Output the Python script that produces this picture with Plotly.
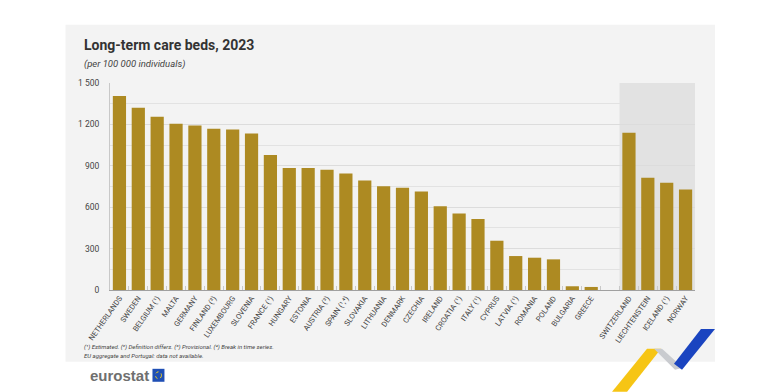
import plotly.graph_objects as go

# ---- data ----
eu_countries = ["NETHERLANDS", "SWEDEN", "BELGIUM (¹)", "MALTA", "GERMANY", "FINLAND (²)",
                "LUXEMBOURG", "SLOVENIA", "FRANCE (¹)", "HUNGARY", "ESTONIA", "AUSTRIA (³)",
                "SPAIN (¹,⁴)", "SLOVAKIA", "LITHUANIA", "DENMARK", "CZECHIA", "IRELAND",
                "CROATIA (¹)", "ITALY (¹)", "CYPRUS", "LATVIA (¹)", "ROMANIA", "POLAND",
                "BULGARIA", "GREECE"]
eu_values = [1405, 1320, 1255, 1204, 1192, 1168, 1163, 1134, 978, 884, 884, 871,
             845, 794, 751, 741, 714, 606, 555, 514, 357, 246, 234, 222, 27, 22]
efta_countries = ["SWITZERLAND", "LIECHTENSTEIN", "ICELAND (¹)", "NORWAY"]
efta_values = [1139, 813, 777, 729]
y_tickvals = [0, 300, 600, 900, 1200, 1500]
y_ticktext = ["0", "300", "600", "900", "1 200", "1 500"]

title = "Long-term care beds, 2023"
subtitle = "(per 100 000 individuals)"
note1 = "(¹) Estimated. (²) Definition differs. (³) Provisional. (⁴) Break in time series."
note2 = "EU aggregate and Portugal: data not available."

# ---- layout geometry (page pixels; figure sits at page offset 8,8) ----
OFF = 8
W, H = 760, 384
L = 109.5 - OFF
T = 82.5 - OFF
R = W - (695 - OFF)
B = H - (290 - OFF)
PW, PH = W - L - R, H - T - B

def px(x):
    return (x - OFF - L) / PW

def py(y):
    return (H - B - (y - OFF)) / PH

gap = " "
categories = eu_countries + [gap] + efta_countries
BAR = "#ad8a22"
FONT = "Roboto, Liberation Sans, Arial, sans-serif"

fig = go.Figure()
fig.add_trace(go.Bar(x=eu_countries + efta_countries, y=eu_values + efta_values,
                     marker=dict(color=BAR, line=dict(width=0)), showlegend=False))

shapes = [
    dict(type="rect", xref="paper", yref="paper", x0=px(65), x1=px(715), y0=py(362), y1=py(24),
         fillcolor="#f3f3f3", line=dict(width=0), layer="below"),
    dict(type="rect", xref="x", yref="y", x0=26.5, x1=30.5, y0=0, y1=1500,
         fillcolor="rgba(0,0,0,0.065)", line=dict(width=0), layer="below"),
]

def poly(points, color):
    d = "M " + " L ".join(f"{px(a):.4f},{py(b):.4f}" for a, b in points) + " Z"
    return dict(type="path", xref="paper", yref="paper", path=d, fillcolor=color,
                line=dict(width=0), layer="above")

shapes += [
    poly([(612, 392), (647, 349), (661, 349), (627, 392)], "#f6c515"),
    poly([(654, 349), (662, 349), (683, 368), (675, 370)], "#c9cbcf"),
    poly([(674, 364), (682, 370), (715, 329), (701, 329)], "#1a44c0"),
    dict(type="rect", xref="paper", yref="paper", x0=px(152), x1=px(164), y0=py(382), y1=py(369),
         fillcolor="#1f4fb5", line=dict(width=0), layer="above"),
    dict(type="circle", xref="paper", yref="paper", x0=px(155), x1=px(161), y0=py(379), y1=py(372),
         fillcolor="rgba(0,0,0,0)", line=dict(width=1, color="#f2d21b", dash="dot"), layer="above"),
]

annotations = [
    dict(text=f"<b>{title}</b>", xref="paper", yref="paper", x=px(81), y=py(44),
         xanchor="left", yanchor="middle", showarrow=False,
         font=dict(family=FONT, size=14, color="#333333")),
    dict(text=f"<i>{subtitle}</i>", xref="paper", yref="paper", x=px(81), y=py(63),
         xanchor="left", yanchor="middle", showarrow=False,
         font=dict(family=FONT, size=9.5, color="#444444")),
    dict(text=f"<i>{note1}</i>", xref="paper", yref="paper", x=px(81), y=py(347),
         xanchor="left", yanchor="middle", showarrow=False,
         font=dict(family=FONT, size=6, color="#444444")),
    dict(text=f"<i>{note2}</i>", xref="paper", yref="paper", x=px(81), y=py(356),
         xanchor="left", yanchor="middle", showarrow=False,
         font=dict(family=FONT, size=6, color="#444444")),
    dict(text="<b>eurostat</b>", xref="paper", yref="paper", x=px(151), y=py(376),
         xanchor="right", yanchor="middle", showarrow=False,
         font=dict(family="Liberation Sans, Arial, sans-serif", size=15, color="#6f6f6f")),
]

fig.update_layout(
    width=W, height=H,
    margin=dict(l=L, r=R, t=T, b=B, pad=0),
    paper_bgcolor="white",
    plot_bgcolor="rgba(0,0,0,0)",
    bargap=0.3,
    shapes=shapes,
    annotations=annotations,
    xaxis=dict(
        type="category", categoryorder="array", categoryarray=categories,
        range=[-0.5, 30.5], tickangle=-55,
        tickfont=dict(family=FONT, size=7.5, color="#444444"),
        showline=True, linecolor="#a0a0a0", linewidth=1,
        ticks="inside", tickson="boundaries", ticklen=4, tickcolor="#c8c8c8",
        showgrid=False, fixedrange=True,
    ),
    yaxis=dict(
        range=[0, 1500], tickvals=y_tickvals, ticktext=y_ticktext,
        tickfont=dict(family=FONT, size=8.5, color="#444444"),
        showgrid=True, gridcolor="#dcdcdc", gridwidth=1,
        minor=dict(dtick=150, tick0=0, showgrid=True, gridcolor="#e2e2e2", gridwidth=1),
        showline=True, linecolor="#c8c8c8", linewidth=1,
        ticks="", ticklabelstandoff=8, zeroline=False, fixedrange=True,
    ),
)

fig.write_html("out.html")
